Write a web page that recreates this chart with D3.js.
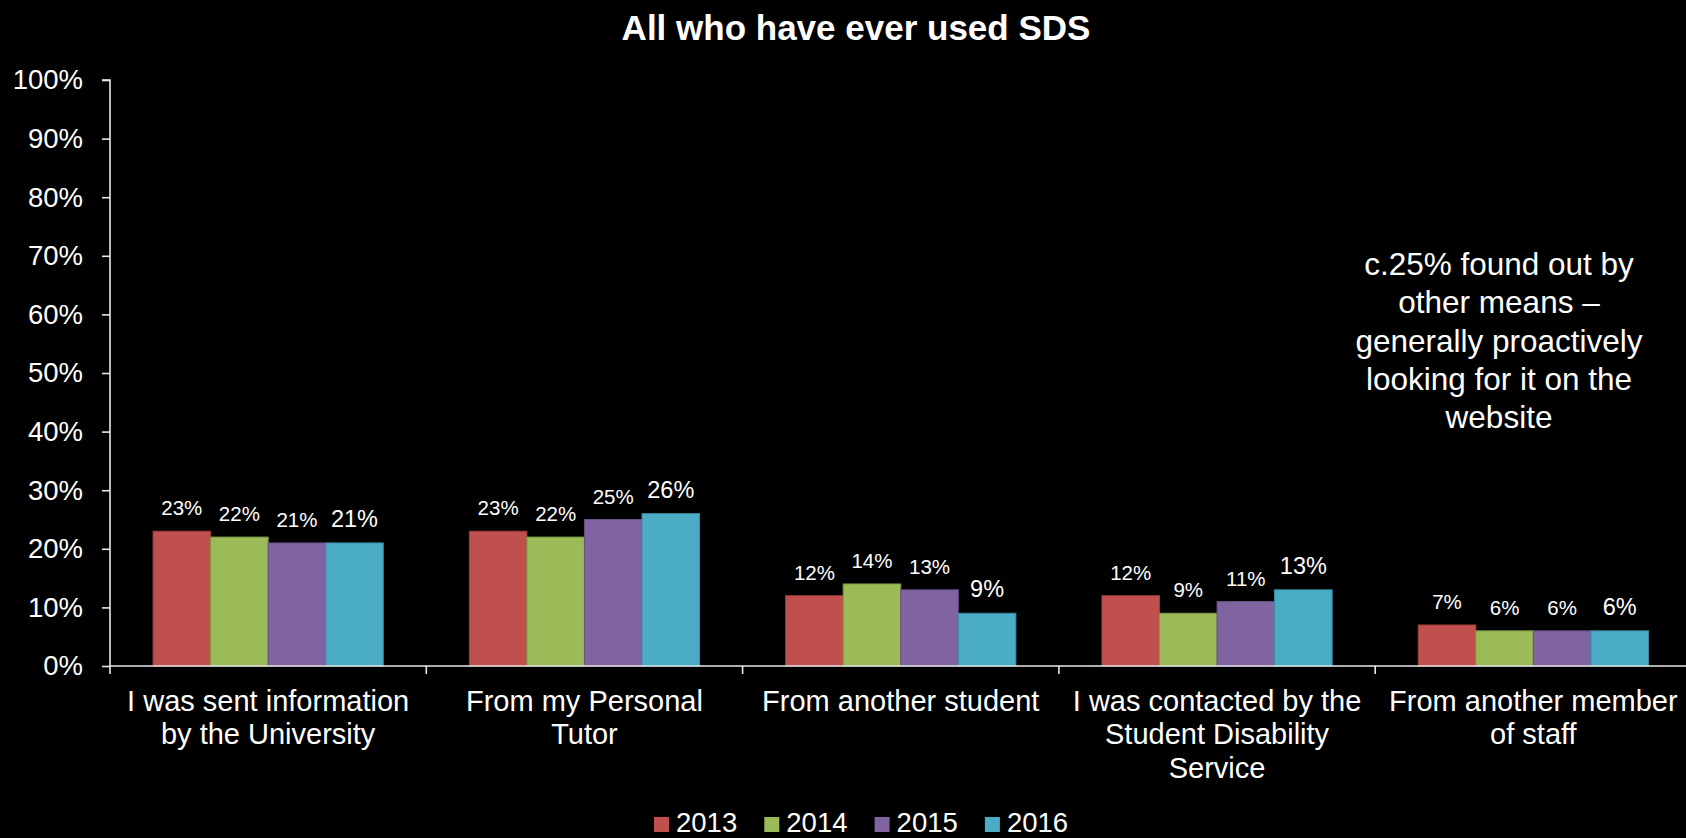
<!DOCTYPE html>
<html>
<head>
<meta charset="utf-8">
<script src="https://cdn.jsdelivr.net/npm/d3@7"></script>
<style>
  html, body { margin: 0; padding: 0; background: #000; }
  svg { display: block; }
  text { font-family: "Liberation Sans", Arial, sans-serif; fill: #fff; }
</style>
</head>
<body>
<svg id="chart" width="1686" height="838"></svg>
<script>
// Survey responses: how students first heard about the Student Disability Service
const categories = [
  ["I was sent information", "by the University"],
  ["From my Personal", "Tutor"],
  ["From another student"],
  ["I was contacted by the", "Student Disability", "Service"],
  ["From another member", "of staff"]
];
const years = ["2013", "2014", "2015", "2016"];
const values2013 = [23, 23, 12, 12, 7];
const values2014 = [22, 22, 14, 9, 6];
const values2015 = [21, 25, 13, 11, 6];
const values2016 = [21, 26, 9, 13, 6];
const yTicks = [0, 10, 20, 30, 40, 50, 60, 70, 80, 90, 100];
const title = "All who have ever used SDS";
const note = ["c.25% found out by", "other means \u2013", "generally proactively", "looking for it on the", "website"];

const series = [values2013, values2014, values2015, values2016];
const colors = ["#C0504D", "#9BBB59", "#8064A2", "#4BACC6"];
const strokes = ["#9c3f3c", "#7f9a47", "#675084", "#3b8ea5"];
const labelSizes = [20.5, 20.5, 20.5, 23.5];

const svg = d3.select("#chart");
const W = 1686, H = 838;
svg.append("rect").attr("width", W).attr("height", H).attr("fill", "#000");

const plotLeft = 110, plotRight = 1691.5, plotTop = 80, plotBottom = 666;
const catKeys = categories.map((c, i) => i);

const x0 = d3.scaleBand().domain(catKeys).range([plotLeft, plotRight]).paddingInner(0).paddingOuter(0);
const x1 = d3.scaleBand().domain(years).range([0, x0.bandwidth()]).paddingInner(0).paddingOuter(0.748);
const y = d3.scaleLinear().domain([0, 100]).range([plotBottom, plotTop]);

// Title
svg.append("text")
  .attr("x", 856).attr("y", 40)
  .attr("text-anchor", "middle")
  .style("font-size", "35px").style("font-weight", "bold")
  .text(title);

// Bars
const groups = svg.append("g").selectAll("g")
  .data(catKeys).join("g")
  .attr("transform", d => `translate(${x0(d)},0)`);

groups.selectAll("rect")
  .data(ci => years.map((yr, si) => ({ yr, si, v: series[si][ci] })))
  .join("rect")
  .attr("x", d => x1(d.yr))
  .attr("y", d => y(d.v))
  .attr("width", x1.bandwidth())
  .attr("height", d => y(0) - y(d.v))
  .attr("fill", d => colors[d.si])
  .attr("stroke", d => strokes[d.si])
  .attr("stroke-width", 1);

groups.selectAll("text.val")
  .data(ci => years.map((yr, si) => ({ yr, si, v: series[si][ci] })))
  .join("text")
  .attr("class", "val")
  .attr("x", d => x1(d.yr) + x1.bandwidth() / 2)
  .attr("y", d => y(d.v) - 16)
  .attr("text-anchor", "middle")
  .style("font-size", d => labelSizes[d.si] + "px")
  .text(d => d.v + "%");

// Y axis
const yAxis = d3.axisLeft(y).tickValues(yTicks).tickFormat(d => d + "%").tickSize(8).tickPadding(19);
const yg = svg.append("g").attr("transform", `translate(${plotLeft},0)`).call(yAxis);
yg.select(".domain").attr("stroke", "#e8e8e8").attr("stroke-width", 1.6).attr("d", `M-8,${plotTop}H0V${plotBottom}`);
yg.selectAll(".tick line").attr("stroke", "#e8e8e8").attr("stroke-width", 1.6);
yg.selectAll(".tick text").style("font-size", "27.5px").attr("fill", "#fff");

// X axis with boundary ticks between categories
const bounds = catKeys.map(k => x0(k)).concat([plotRight]);
const xg = svg.append("g");
xg.append("line")
  .attr("x1", plotLeft).attr("x2", plotRight)
  .attr("y1", plotBottom).attr("y2", plotBottom)
  .attr("stroke", "#e8e8e8").attr("stroke-width", 1.6);
xg.selectAll("line.bt").data(bounds).join("line")
  .attr("class", "bt")
  .attr("x1", d => d).attr("x2", d => d)
  .attr("y1", plotBottom).attr("y2", plotBottom + 8)
  .attr("stroke", "#e8e8e8").attr("stroke-width", 1.6);

const catLabels = xg.selectAll("text.cat").data(catKeys).join("text")
  .attr("class", "cat")
  .attr("text-anchor", "middle")
  .style("font-size", "29px");
catLabels.each(function(ci) {
  const t = d3.select(this);
  categories[ci].forEach((line, li) => {
    t.append("tspan")
      .attr("x", x0(ci) + x0.bandwidth() / 2)
      .attr("y", 711 + li * 33.4)
      .text(line);
  });
});

// Annotation
const noteG = svg.append("text").attr("text-anchor", "middle").style("font-size", "31.5px");
note.forEach((line, i) => {
  noteG.append("tspan").attr("x", 1499).attr("y", 275 + i * 38.3).text(line);
});

// Legend
const lx = d3.scaleBand().domain(years).range([654, 654 + 4 * 110.3]);
const lg = svg.append("g").selectAll("g").data(years).join("g")
  .attr("transform", d => `translate(${lx(d)},0)`);
lg.append("rect")
  .attr("x", 0).attr("y", 817).attr("width", 15).attr("height", 15)
  .attr("fill", (d, i) => colors[i]);
lg.append("text")
  .attr("x", 22).attr("y", 832)
  .style("font-size", "27.5px")
  .text(d => d);
</script>
</body>
</html>
